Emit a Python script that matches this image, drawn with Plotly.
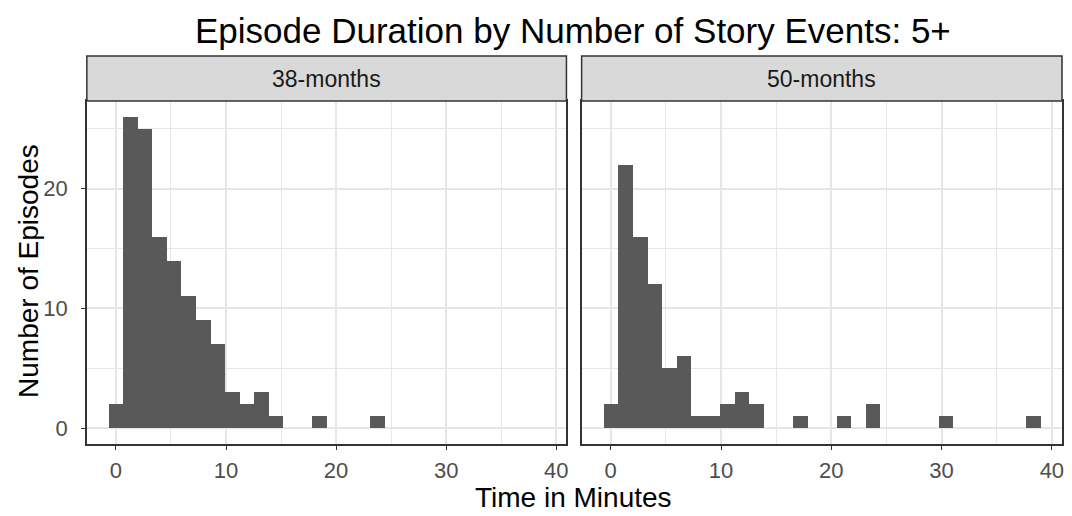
import plotly.graph_objects as go

# Histogram counts per bin (30 bins shared by both panels)
panels = ["38-months", "50-months"]
counts_38 = [2, 26, 25, 16, 14, 11, 9, 7, 3, 2, 3, 1, 0, 0, 1, 0, 0, 0, 1]
counts_50 = [2, 22, 16, 12, 5, 6, 1, 1, 2, 3, 2, 0, 0, 1, 0, 0, 1, 0, 2,
             0, 0, 0, 0, 1, 0, 0, 0, 0, 0, 1]
bin_width = 1.32
n_bins = 30

x_ticks = [0, 10, 20, 30, 40]
y_ticks = [0, 10, 20]

title_text = "Episode Duration by Number of Story Events: 5+"
x_title = "Time in Minutes"
y_title = "Number of Episodes"

W, H = 1072, 516
FONT = "Liberation Sans, Arial, sans-serif"
BAR = "#595959"
GRID = "#e6e6e6"
BORDER = "#333333"

# panel geometry in pixels
px_left = [(87, 567.5), (582.7, 1064)]
panel_top, panel_bottom = 101, 444
strip_top = 56

def xd(px):
    return px / W

def yd(py):
    return (H - py) / H

# x scale with 5% expansion around the bin extent
lo = -bin_width / 2
hi = (n_bins - 0.5) * bin_width
pad = 0.05 * (hi - lo)
x_range = [lo - pad, hi + pad]

ymax = max(max(counts_38), max(counts_50))
y_range = [-0.05 * ymax, ymax * 1.05]

fig = go.Figure()

for i, counts in enumerate([counts_38, counts_50]):
    centers = [k * bin_width for k in range(len(counts))]
    fig.add_trace(go.Bar(
        x=centers, y=counts, width=[bin_width] * len(counts),
        marker=dict(color=BAR, line=dict(width=0)),
        xaxis="x" if i == 0 else "x2", yaxis="y" if i == 0 else "y2",
        showlegend=False, hoverinfo="x+y",
    ))

axis_common = dict(
    showline=True, mirror=True, linecolor=BORDER, linewidth=1.5,
    ticks="outside", ticklen=4, tickwidth=1.3, tickcolor=BORDER,
    tickfont=dict(family=FONT, size=22, color="#4d4d4d"),
    showgrid=True, gridcolor=GRID, gridwidth=1.6,
    zeroline=False,
)

layout = dict(
    width=W, height=H,
    margin=dict(l=0, r=0, t=0, b=0),
    paper_bgcolor="white", plot_bgcolor="white",
    bargap=0, barmode="overlay",
    showlegend=False,
)

for i, (x0, x1) in enumerate(px_left):
    sfx = "" if i == 0 else "2"
    layout["xaxis" + sfx] = dict(
        axis_common, domain=[xd(x0), xd(x1)], range=x_range,
        tickmode="array", tickvals=x_ticks, ticktext=[str(t) for t in x_ticks],
        ticklabelstandoff=2,
        minor=dict(dtick=5, tick0=0, showgrid=True, gridcolor=GRID, gridwidth=1.0),
        anchor="y" + sfx,
    )
    layout["yaxis" + sfx] = dict(
        axis_common, domain=[yd(panel_bottom), yd(panel_top)], range=y_range,
        tickmode="array", tickvals=y_ticks,
        ticktext=[str(t) for t in y_ticks] if i == 0 else [""] * len(y_ticks),
        ticks="outside" if i == 0 else "",
        ticklabelstandoff=9,
        minor=dict(dtick=5, tick0=0, showgrid=True, gridcolor=GRID, gridwidth=1.0),
        anchor="x" + sfx,
    )

fig.update_layout(**layout)

shapes = []
annotations = []
for i, (x0, x1) in enumerate(px_left):
    shapes.append(dict(
        type="rect", xref="paper", yref="paper",
        x0=xd(x0), x1=xd(x1), y0=yd(panel_top), y1=yd(strip_top),
        fillcolor="#d9d9d9", line=dict(color=BORDER, width=1.5), layer="above",
    ))
    annotations.append(dict(
        text=panels[i], xref="paper", yref="paper",
        x=xd((x0 + x1) / 2), y=yd((panel_top + strip_top) / 2),
        xanchor="center", yanchor="middle", showarrow=False,
        font=dict(family=FONT, size=23, color="#1a1a1a"),
    ))

annotations.append(dict(
    text=title_text, xref="paper", yref="paper",
    x=xd(574), y=yd(31), xanchor="center", yanchor="middle", showarrow=False,
    font=dict(family=FONT, size=35, color="black"),
))
annotations.append(dict(
    text=x_title, xref="paper", yref="paper",
    x=xd(575), y=yd(497), xanchor="center", yanchor="middle", showarrow=False,
    font=dict(family=FONT, size=28, color="black"),
))
annotations.append(dict(
    text=y_title, xref="paper", yref="paper", textangle=-90,
    x=xd(28), y=yd(271), xanchor="center", yanchor="middle", showarrow=False,
    font=dict(family=FONT, size=28, color="black"),
))

fig.update_layout(shapes=shapes, annotations=annotations)

fig.write_html("out.html")
